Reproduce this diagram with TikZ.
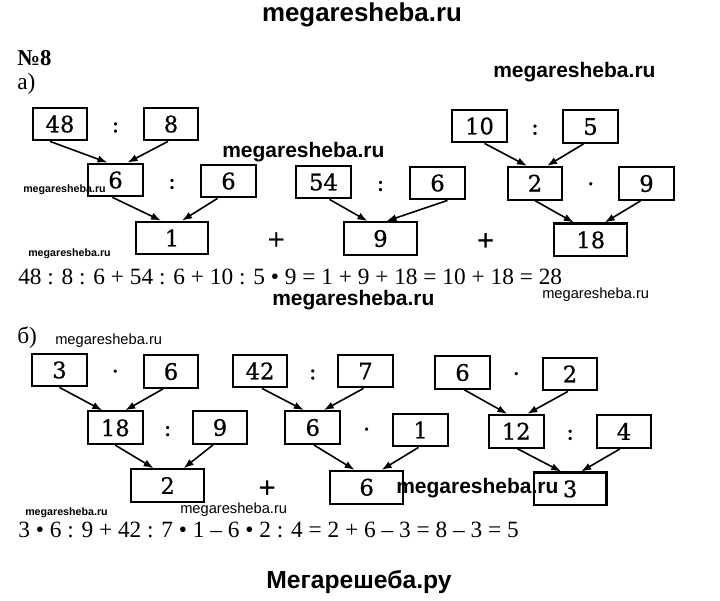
\documentclass[tikz,border=0pt]{standalone}
\usepackage{fontspec}
\setmainfont{Liberation Serif}
\newfontfamily\boxfont[FakeBold=0.6]{DejaVu Serif}
\newfontfamily\wmfont{Liberation Sans}
\usepackage{tikz}
\usetikzlibrary{arrows.meta, positioning, calc}
\tikzset{
    % boxes with numbers and the signs between them
    numbox/.style = {rectangle, draw=black, line width=1.6pt, minimum width=41pt, minimum height=24.5pt, inner sep=0pt, text height=12.4pt, text depth=0pt, text centered, font=\boxfont\fontsize{17}{17}\selectfont},
    resbox/.style = {numbox, minimum width=54.5pt},
    opsign/.style = {inner sep=0pt, text height=12.4pt, text depth=0pt, font=\boxfont\fontsize{17}{17}\selectfont},
    arrow/.style = {line width=1.2pt, -{Latex[length=7.5pt, width=5.5pt]}},
    eqline/.style = {anchor=base west, inner sep=0pt, font=\fontsize{17.5}{17.5}\selectfont},
    wmbold/.style = {anchor=base west, inner sep=0pt, font=\wmfont\bfseries\fontsize{15.75}{15.75}\selectfont},
    wmsmall/.style = {wmbold, font=\wmfont\bfseries\fontsize{8}{8}\selectfont},
    wmlight/.style = {anchor=base west, inner sep=0pt, font=\wmfont\fontsize{11}{11}\selectfont}
}
\begin{document}
\begin{tikzpicture}[x=0.75pt, y=-0.75pt]
\useasboundingbox (0,0) rectangle (720,600);

% Headings
\node[wmbold, anchor=base, font=\wmfont\bfseries\fontsize{19.4}{19.4}\selectfont] (site_top) at (362,21) {megaresheba.ru};
\node[eqline, font=\bfseries\fontsize{17}{17}\selectfont] (task_no) at (17,65) {№8};
\node[eqline] (part_a) at (17,89) {а)};
\node[eqline] (part_b) at (17,343) {б)};

% Part a
\node[numbox] (a48) at (60,124) {48};
\node[numbox] (a8) at (171,124) {8};
\node[opsign] (op_a1) at ($(a48)!0.5!(a8)$) {:};
\node[numbox] (a6l) at ($(a48)!0.5!(a8)+(0,56)$) {6};
\node[numbox] (a6r) at ($(a6l)+(113,1)$) {6};
\node[opsign] (op_a2) at ($(a6l)!0.5!(a6r)$) {:};
\node[resbox] (a1) at ($(a6l)!0.5!(a6r)+(0,57.5)$) {1};

\node[numbox] (a54) at (323.5,182) {54};
\node[numbox] (a6m) at (437.5,183) {6};
\node[opsign] (op_a3) at ($(a54)!0.5!(a6m)$) {:};
\node[resbox] (a9) at ($(a54)!0.5!(a6m)+(0,56)$) {9};

\node[numbox] (a10) at (479.5,126) {10};
\node[numbox] (a5) at (590.5,126.5) {5};
\node[opsign] (op_a4) at ($(a10)!0.5!(a5)$) {:};
\node[numbox] (a2) at ($(a10)!0.5!(a5)+(0,57)$) {2};
\node[numbox] (a9r) at (646.5,183.5) {9};
\node[opsign] (op_a5) at ($(a2)!0.5!(a9r)$) {·};
\node[resbox] (a18) at ($(a2)!0.5!(a9r)+(0,56.5)$) {18};

\node[opsign] (plus_a1) at ($(a1)!0.5!(a9)$) {+};
\node[opsign] (plus_a2) at ($(a9)!0.5!(a18)$) {+};

\draw[arrow] ($(a48.south)+(-10,0)$) -- ($(a6l.north)+(-8,0)$);
\draw[arrow] ($(a8.south)+(-3,0)$) -- ($(a6l.north)+(12,0)$);
\draw[arrow] ($(a6l.south)+(-3,0)$) -- ($(a1.north)+(-11,0)$);
\draw[arrow] ($(a6r.south)+(-11,0)$) -- ($(a1.north)+(10,0)$);
\draw[arrow] ($(a54.south)+(6,0)$) -- ($(a9.north)+(-13,0)$);
\draw[arrow] ($(a6m.south)+(10,0)$) -- ($(a9.north)+(6,0)$);
\draw[arrow] ($(a10.south)+(5,0)$) -- ($(a2.north)+(-8,0)$);
\draw[arrow] ($(a5.south)+(-7,0)$) -- ($(a2.north)+(12,0)$);
\draw[arrow] (a2.south) -- ($(a18.north)+(-17,0)$);
\draw[arrow] ($(a9r.south)+(-6,0)$) -- ($(a18.north)+(14,0)$);

\node[eqline] (eq_a) at (18,284) {48 : 8 : 6 + 54 : 6 + 10 : 5 • 9 = 1 + 9 + 18 = 10 + 18 = 28};

% Part b
\node[numbox] (b3) at (59.5,370) {3};
\node[numbox] (b6) at (171,371.5) {6};
\node[opsign] (op_b1) at ($(b3)!0.5!(b6)$) {·};
\node[numbox] (b18) at ($(b3)!0.5!(b6)+(0,57)$) {18};
\node[numbox] (b9) at (220,427.5) {9};
\node[opsign] (op_b2) at ($(b18)!0.5!(b9)$) {:};
\node[resbox] (b2) at ($(b18)!0.5!(b9)+(0,58)$) {2};

\node[numbox] (b42) at (260,371) {42};
\node[numbox] (b7) at (365.5,371) {7};
\node[opsign] (op_b3) at ($(b42)!0.5!(b7)$) {:};
\node[numbox] (b6m) at ($(b42)!0.5!(b7)+(0,56.5)$) {6};
\node[numbox] (b1) at (420.5,430) {1};
\node[opsign] (op_b4) at ($(b6m)!0.5!(b1)$) {·};
\node[resbox] (b6b) at ($(b6m)!0.5!(b1)+(0,58.5)$) {6};

\node[numbox] (b6r) at (462.5,372.5) {6};
\node[numbox] (b2r) at (570,374) {2};
\node[opsign] (op_b5) at ($(b6r)!0.5!(b2r)$) {·};
\node[numbox] (b12) at ($(b6r)!0.5!(b2r)+(0,58)$) {12};
\node[numbox] (b4) at (624,431.5) {4};
\node[opsign] (op_b6) at ($(b12)!0.5!(b4)$) {:};
\node[resbox] (b3r) at ($(b12)!0.5!(b4)+(0,57.5)$) {3};

\node[opsign] (plus_b1) at ($(b2)!0.5!(b6b)$) {+};

\draw[arrow] (b3.south) -- ($(b18.north)+(-13,0)$);
\draw[arrow] ($(b6.south)+(-8,0)$) -- ($(b18.north)+(10,0)$);
\draw[arrow] (b18.south) -- ($(b2.north)+(-14,0)$);
\draw[arrow] ($(b9.south)+(-7,0)$) -- ($(b2.north)+(16,0)$);
\draw[arrow] ($(b42.south)+(2,0)$) -- ($(b6m.north)+(-9,0)$);
\draw[arrow] ($(b7.south)+(-2,0)$) -- ($(b6m.north)+(11,0)$);
\draw[arrow] ($(b6m.south)+(1,0)$) -- ($(b6b.north)+(-12,0)$);
\draw[arrow] ($(b1.south)+(-2,0)$) -- ($(b6b.north)+(15,0)$);
\draw[arrow] ($(b6r.south)+(2,0)$) -- ($(b12.north)+(-9,0)$);
\draw[arrow] ($(b2r.south)+(-2,0)$) -- ($(b12.north)+(11,0)$);
\draw[arrow] ($(b12.south)+(1,0)$) -- ($(b3r.north)+(-9,0)$);
\draw[arrow] ($(b4.south)+(-4,0)$) -- ($(b3r.north)+(11,0)$);

\node[eqline] (eq_b) at (18,537) {3 • 6 : 9 + 42 : 7 • 1 – 6 • 2 : 4 = 2 + 6 – 3 = 8 – 3 = 5};

% Site marks
\node[wmbold] (site_1) at (493,77) {megaresheba.ru};
\node[wmbold] (site_2) at (222,157) {megaresheba.ru};
\node[wmsmall] (site_3) at (23,192) {megaresheba.ru};
\node[wmsmall] (site_4) at (28,256) {megaresheba.ru};
\node[wmbold] (site_5) at (272,305) {megaresheba.ru};
\node[wmlight] (site_6) at (542,298) {megaresheba.ru};
\node[wmlight] (site_7) at (55,344) {megaresheba.ru};
\node[wmsmall] (site_8) at (25,515) {megaresheba.ru};
\node[wmlight] (site_9) at (180,513) {megaresheba.ru};
\node[wmbold] (site_10) at (396,493) {megaresheba.ru};
\node[wmbold, anchor=base, font=\wmfont\bfseries\fontsize{18.5}{18.5}\selectfont] (site_bottom) at (359,588) {Мегарешеба.ру};

\end{tikzpicture}
\end{document}
